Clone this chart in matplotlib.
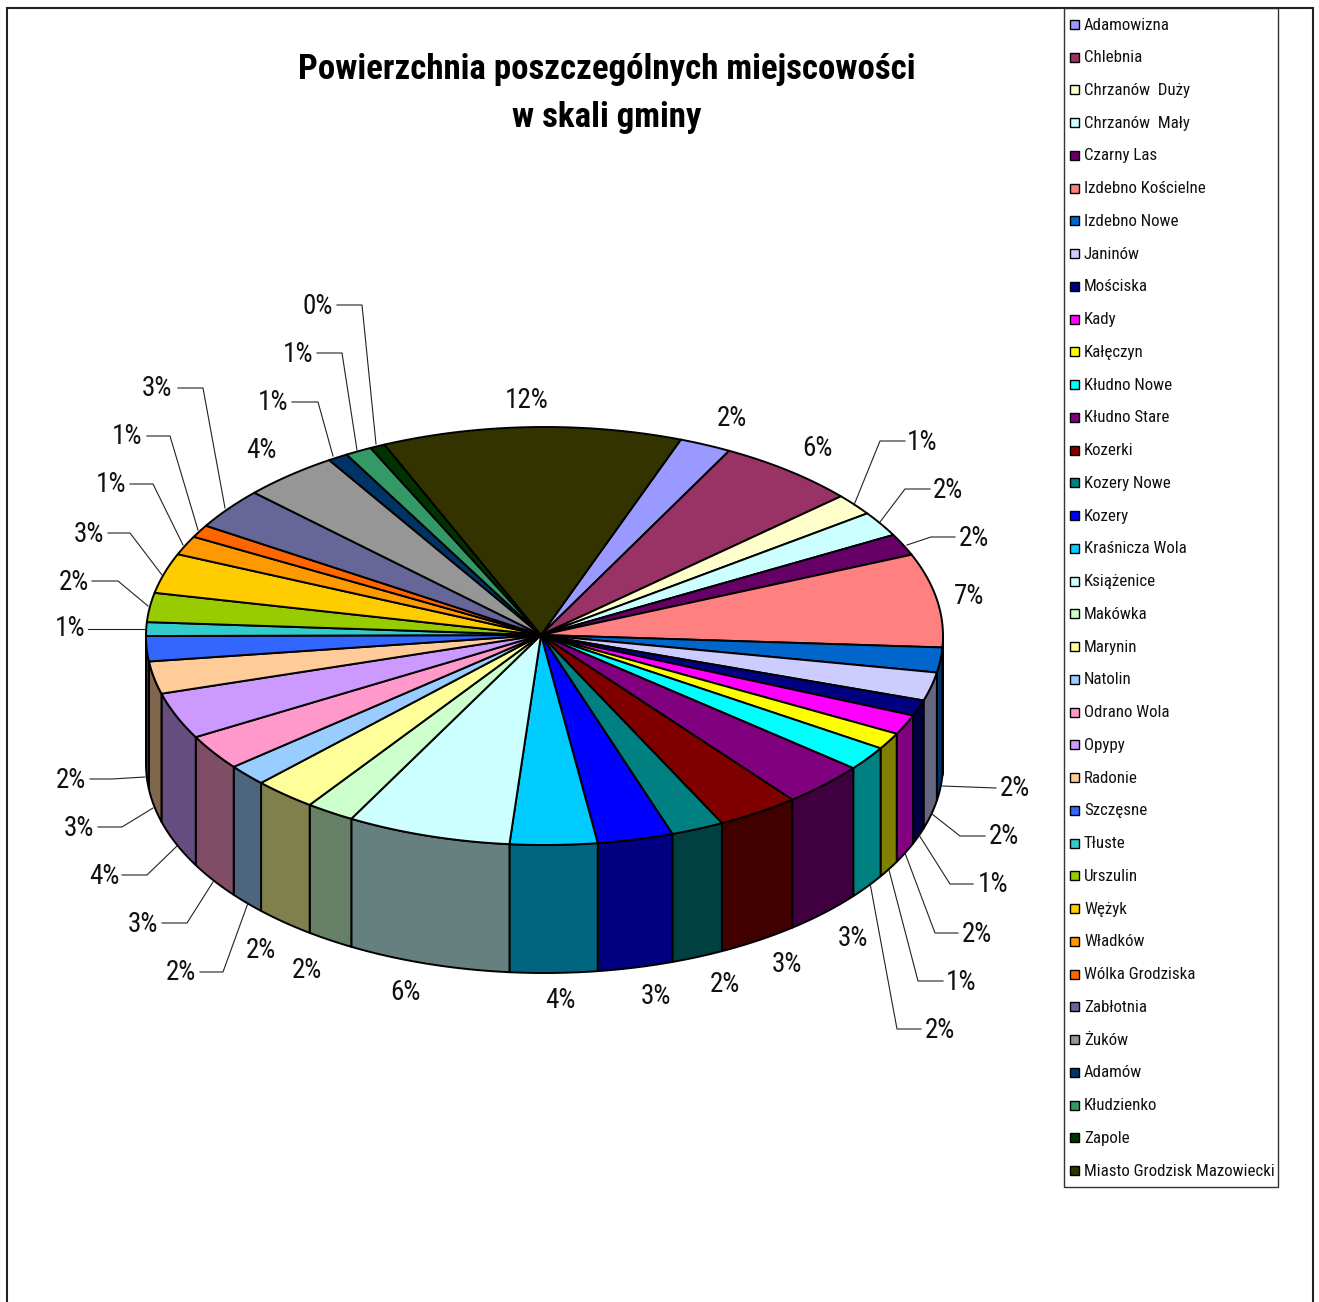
import numpy as np
import matplotlib
matplotlib.use("Agg")
import matplotlib.pyplot as plt
from matplotlib.patches import Polygon, Rectangle

names = ["Adamowizna", "Chlebnia", "Chrzanów  Duży", "Chrzanów  Mały", "Czarny Las", "Izdebno Kościelne",
         "Izdebno Nowe", "Janinów", "Mościska", "Kady", "Kałęczyn", "Kłudno Nowe", "Kłudno Stare", "Kozerki",
         "Kozery Nowe", "Kozery", "Kraśnicza Wola", "Książenice", "Makówka", "Marynin", "Natolin",
         "Odrano Wola", "Opypy", "Radonie", "Szczęsne", "Tłuste", "Urszulin", "Wężyk", "Władków",
         "Wólka Grodziska", "Zabłotnia", "Żuków", "Adamów", "Kłudzienko", "Zapole", "Miasto Grodzisk Mazowiecki"]
values = [2.11, 5.67, 1.67, 1.94, 1.67, 7.22, 1.92, 2.19, 1.22, 1.53, 1.28, 1.86, 3.42, 3.33, 2.14, 3.06, 3.53, 6.64,
          1.97, 2.56, 1.64, 2.72, 3.58, 2.50, 1.94, 1.06, 2.25, 3.08, 1.47, 0.97, 3.17, 3.89, 0.81, 1.08, 0.61, 12.11]
percent_labels = ["2%", "6%", "1%", "2%", "2%", "7%", "2%", "2%", "1%", "2%", "1%", "2%", "3%", "3%", "2%", "3%", "4%", "6%",
                  "2%", "2%", "2%", "3%", "4%", "3%", "2%", "1%", "2%", "3%", "1%", "1%", "3%", "4%", "1%", "1%", "0%", "12%"]
colors = ["#9999FF", "#993366", "#FFFFCC", "#CCFFFF", "#660066", "#FF8080", "#0066CC", "#CCCCFF", "#000080", "#FF00FF",
          "#FFFF00", "#00FFFF", "#800080", "#800000", "#008080", "#0000FF", "#00CCFF", "#CCFFFF", "#CCFFCC", "#FFFF99",
          "#99CCFF", "#FF99CC", "#CC99FF", "#FFCC99", "#3366FF", "#33CCCC", "#99CC00", "#FFCC00", "#FF9900", "#FF6600",
          "#666699", "#969696", "#003366", "#339966", "#003300", "#333300"]
title_lines = ["Powierzchnia poszczególnych miejscowości", "w skali gminy"]

# layout (pixels)
CX, CY, RX, RY, DEPTH, START = 544.5, 636, 398.5, 209, 128, 20.0
label_xy = [(732, 417), (817, 447), (922, 441), (948, 489), (974, 538), (969, 595), (1015, 788), (1004, 836), (993, 884),
            (977, 933), (961, 981), (940, 1029), (853, 938), (787, 964), (725, 983), (656, 995), (560, 1000), (405, 991),
            (307, 969), (261, 950), (181, 972), (143, 924), (104, 876), (79, 828), (71, 779), (70, 628), (74, 581),
            (89, 533), (111, 484), (127, 436), (157, 388), (261, 450), (273, 402), (298, 353), (318, 305), (527, 400)]
leaders = {2: [(854, 505), (880, 441), (905, 441)], 3: [(880, 522), (905, 489), (930, 489)],
           4: [(907, 545), (931, 537), (955, 537)], 6: [(942, 786), (996, 788)],
           7: [(932, 814), (960, 836), (985, 836)], 8: [(919, 835), (950, 884), (973, 884)],
           9: [(905, 853), (935, 933), (958, 933)], 10: [(889, 870), (918, 981), (943, 981)],
           11: [(870, 883), (897, 1029), (921, 1029)], 20: [(248, 903), (223, 972), (200, 972)],
           21: [(213, 882), (187, 923), (162, 923)], 22: [(177, 846), (147, 875), (122, 875)],
           23: [(153, 808), (122, 827), (98, 827)], 24: [(145, 777), (112, 779), (90, 779)],
           25: [(146, 629), (88, 629)], 26: [(148, 606), (118, 581), (92, 581)],
           27: [(162, 575), (130, 533), (108, 533)], 28: [(183, 545), (153, 484), (130, 484)],
           29: [(198, 530), (170, 436), (147, 436)], 30: [(225, 508), (203, 388), (178, 388)],
           32: [(333, 456), (318, 402), (292, 402)], 33: [(357, 450), (342, 353), (317, 353)],
           34: [(376, 444), (362, 305), (337, 305)]}

FONT = ["Roboto Condensed", "Liberation Sans"]

fig = plt.figure(figsize=(13.19, 13.02), dpi=100)
ax = fig.add_axes([0, 0, 1, 1])
ax.set_xlim(0, 1319)
ax.set_ylim(1302, 0)
ax.axis("off")

vals = np.array(values, float)
edges = START + np.concatenate([[0], np.cumsum(vals)]) / vals.sum() * 360.0


def rim(t, dy=0.0):
    r = np.radians(t)
    return np.column_stack([CX + RX * np.sin(r), CY - RY * np.cos(r) + dy])


def shade(c):
    return tuple(v * 0.5 for v in matplotlib.colors.to_rgb(c))


EDGE = dict(edgecolor="black", linewidth=1.4, joinstyle="round")
# side wall (front half of the disc only)
for i, c in enumerate(colors):
    for a0, b0 in ((edges[i], edges[i + 1]), (edges[i] + 360, edges[i + 1] + 360)):
        a, b = max(a0, 90), min(b0, 270)
        if b <= a:
            continue
        t = np.linspace(a, b, 30)
        ax.add_patch(Polygon(np.vstack([rim(t), rim(t[::-1], DEPTH)]), closed=True, facecolor=shade(c), zorder=2, **EDGE))
# top face
for i, c in enumerate(colors):
    t = np.linspace(edges[i], edges[i + 1], 50)
    ax.add_patch(Polygon(np.vstack([[(541, 635)], rim(t)]), closed=True, facecolor=c, zorder=3, **EDGE))

for i, (lab, (x, y)) in enumerate(zip(percent_labels, label_xy)):
    ax.text(x, y + 1, lab, ha="center", va="center", fontsize=19.5, family=FONT, color="#111111", zorder=5)
    if i in leaders:
        p = np.array(leaders[i])
        ax.plot(p[:, 0], p[:, 1], color="#222222", lw=0.8, zorder=4, solid_joinstyle="miter")

# title
for line, y in zip(title_lines, (69, 117)):
    ax.text(607, y, line, ha="center", va="center", fontsize=25.1, fontweight="bold", family=FONT, color="black")

# frame
ax.plot([7, 7, 1313, 1313], [1302, 8, 8, 1302], color="#222222", lw=1.5, solid_joinstyle="miter")

# legend
ax.add_patch(Rectangle((1064, 8), 214, 1179, facecolor="white", edgecolor="#333333", lw=1.0, zorder=1))
for i, (n, c) in enumerate(zip(names, colors)):
    y = 24.5 + i * (1170.5 - 24.5) / 35
    ax.add_patch(Rectangle((1070, y - 4.5), 9, 9, facecolor=c, edgecolor="black", lw=1.0, zorder=3))
    ax.text(1084, y + 0.5, n, ha="left", va="center", fontsize=12.15, family=FONT, color="#111111", zorder=3)

fig.savefig("out.png", dpi=100, facecolor="white")
